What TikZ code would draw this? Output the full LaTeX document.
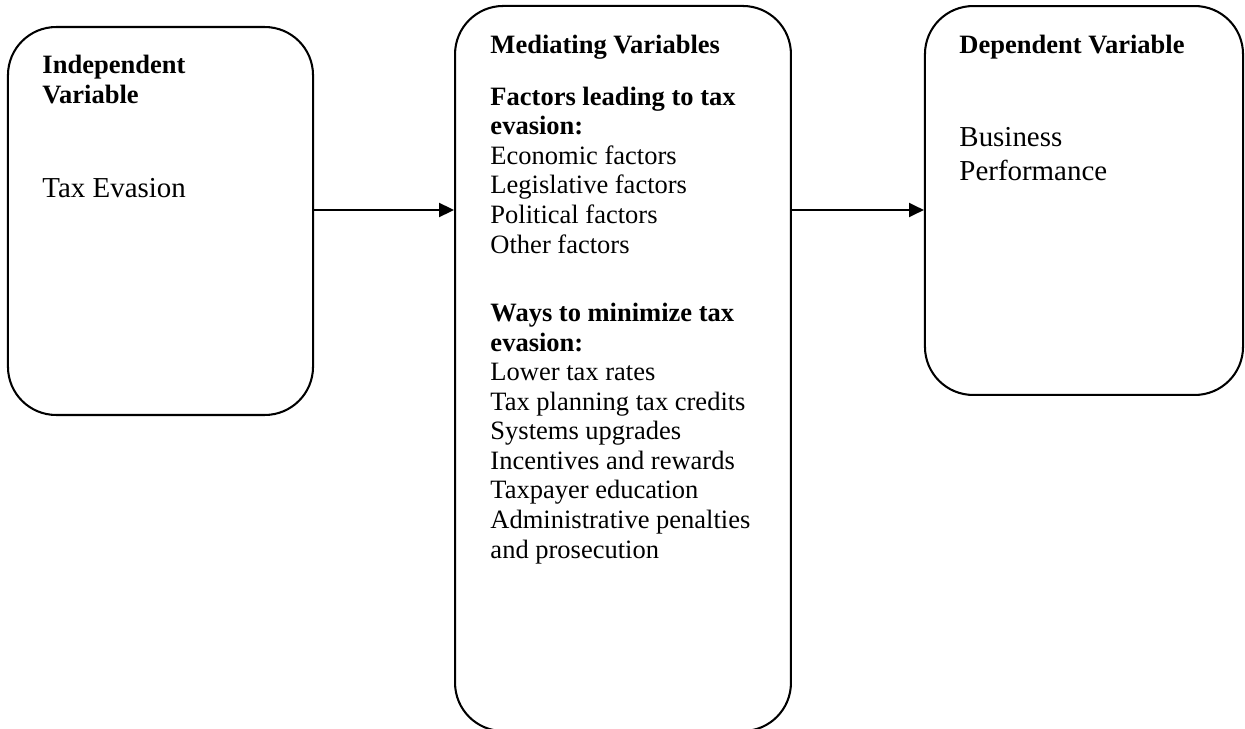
\documentclass[tikz,border=0pt]{standalone}
\usepackage{fontspec}
\setmainfont{Liberation Serif}
\usetikzlibrary{arrows.meta}

\begin{document}
\begin{tikzpicture}[
  x=0.415pt, y=-0.415pt,
  font=\fontsize{11}{12.25}\selectfont,
  box/.style={draw,line width=0.85pt,rounded corners=20pt,inner sep=0pt},
  txt/.style={anchor=base west,inner sep=0pt,align=left},
  big/.style={txt,font=\fontsize{12}{13.8}\selectfont},
  to/.style={-{Triangle[length=6.2pt,width=5.8pt]},line width=0.85pt}]

  \useasboundingbox (0,0) rectangle (1245,729);

  % Draw the three variable boxes
  \node[box,minimum width=126.6pt,minimum height=161pt] (IV) at (160.5,221) {};
  \node[box,minimum width=139.4pt,minimum height=300.9pt] (MV) at (623,368.5) {};
  \node[box,minimum width=132pt,minimum height=161.4pt] (DV) at (1084,200.5) {};

  % Texts inside the boxes (placed at the baseline of their last line)
  \node[txt] (IVhead) at (42,103) {\textbf{Independent}\\\textbf{Variable}};
  \node[big] (IVtext) at (42,197) {Tax Evasion};

  \node[txt] (MVhead) at (490,53) {\textbf{Mediating Variables}};
  \node[txt] (MVfactors) at (490,253) {\textbf{Factors leading to tax}\\\textbf{evasion:}\\Economic factors\\Legislative factors\\Political factors\\Other factors};
  \node[txt] (MVways) at (490,558) {\textbf{Ways to minimize tax}\\\textbf{evasion:}\\Lower tax rates\\Tax planning tax credits\\Systems upgrades\\Incentives and rewards\\Taxpayer education\\Administrative penalties\\and prosecution};

  \node[txt] (DVhead) at (959,53) {\textbf{Dependent Variable}};
  \node[big] (DVtext) at (959,180) {Business\\Performance};

  % Draw the arrows between the boxes
  \coordinate (lvl) at (0,210);
  \draw[to] (IV.east |- lvl) -- (MV.west |- lvl);
  \draw[to] (MV.east |- lvl) -- (DV.west |- lvl);
\end{tikzpicture}
\end{document}
